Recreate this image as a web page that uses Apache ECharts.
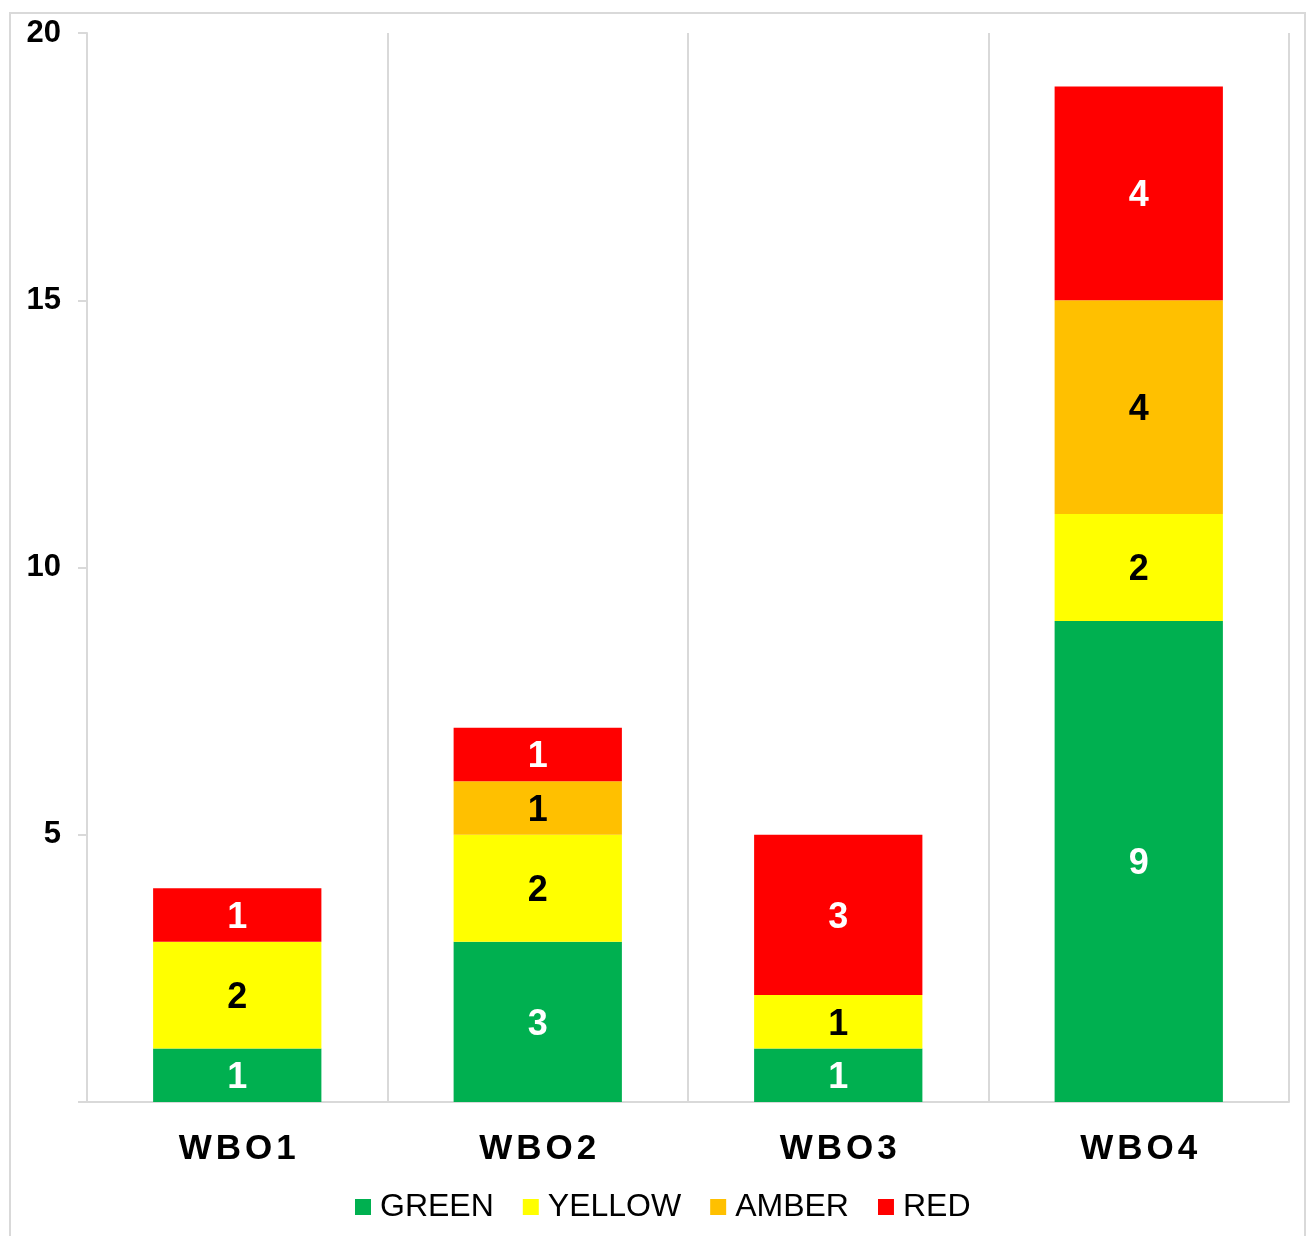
<!DOCTYPE html>
<html>
<head>
<meta charset="utf-8">
<script src="https://cdn.jsdelivr.net/npm/echarts@6/dist/echarts.min.js"></script>
<style>
html,body{margin:0;padding:0;background:#fff;}
#frame{position:absolute;left:9px;top:12px;width:1297px;height:1240px;border:2px solid #d9d9d9;box-sizing:border-box;}
#main{position:absolute;left:0;top:0;width:1308px;height:1236px;}
</style>
</head>
<body>
<div id="frame"></div>
<div id="main"></div>
<script>
var categories = ['WBO1', 'WBO2', 'WBO3', 'WBO4'];
var greenData = [1, 3, 1, 9];
var yellowData = [2, 2, 1, 2];
var amberData = [0, 1, 0, 4];
var redData = [1, 1, 3, 4];
var yTicks = [0, 5, 10, 15, 20];

var chart = echarts.init(document.getElementById('main'));

function makeSeries(name, data, color, labelColor) {
	return {
		name: name,
		type: 'bar',
		stack: 'total',
		barWidth: '56%',
		itemStyle: { color: color },
		label: {
			show: true,
			position: 'inside',
			offset: [0, 3],
			color: labelColor,
			fontFamily: 'Liberation Sans, Arial',
			fontWeight: 'bold',
			fontSize: 36,
			formatter: function (p) { return p.value > 0 ? p.value : ''; }
		},
		data: data
	};
}

// spread the letters of category names a bit
function spaced(v) {
	return v.split('').map(function (c) { return '{c|' + c + '}'; }).join('');
}

var option = {
	animation: false,
	textStyle: { fontFamily: 'Liberation Sans, Arial' },
	grid: { left: 87, right: 19, top: 33, bottom: 134, containLabel: false },
	legend: {
		top: 1186,
		left: 350,
		icon: 'rect',
		itemWidth: 16,
		itemHeight: 16,
		itemGap: 29,
		textStyle: { fontSize: 32, color: '#000', fontFamily: 'Liberation Sans, Arial', padding: [0, 0, 0, 4] },
		data: ['GREEN', 'YELLOW', 'AMBER', 'RED']
	},
	xAxis: {
		type: 'category',
		data: categories,
		axisLine: { lineStyle: { color: '#d9d9d9', width: 2 } },
		axisTick: { show: false },
		splitLine: { show: true, lineStyle: { color: '#d9d9d9', width: 2 } },
		axisLabel: {
			margin: 30,
			formatter: spaced,
			rich: {
				c: {
					color: '#000',
					fontWeight: 'bold',
					fontSize: 35,
					padding: [0, 2],
					fontFamily: 'Liberation Sans, Arial'
				}
			}
		}
	},
	yAxis: {
		type: 'value',
		min: yTicks[0],
		max: yTicks[yTicks.length - 1],
		interval: 5,
		axisLine: { show: true, lineStyle: { color: '#d9d9d9', width: 2 } },
		axisTick: { show: true, length: 9, lineStyle: { color: '#d9d9d9', width: 2 } },
		splitLine: { show: false },
		axisLabel: {
			color: '#000',
			fontWeight: 'bold',
			fontSize: 31,
			margin: 26,
			fontFamily: 'Liberation Sans, Arial',
			formatter: function (v) { return v === 0 ? '' : v; }
		}
	},
	series: [
		makeSeries('GREEN', greenData, '#00B050', '#fff'),
		makeSeries('YELLOW', yellowData, '#FFFF00', '#000'),
		makeSeries('AMBER', amberData, '#FFC000', '#000'),
		makeSeries('RED', redData, '#FF0000', '#fff')
	]
};

chart.setOption(option);
window.onresize = chart.resize;
</script>
</body>
</html>
